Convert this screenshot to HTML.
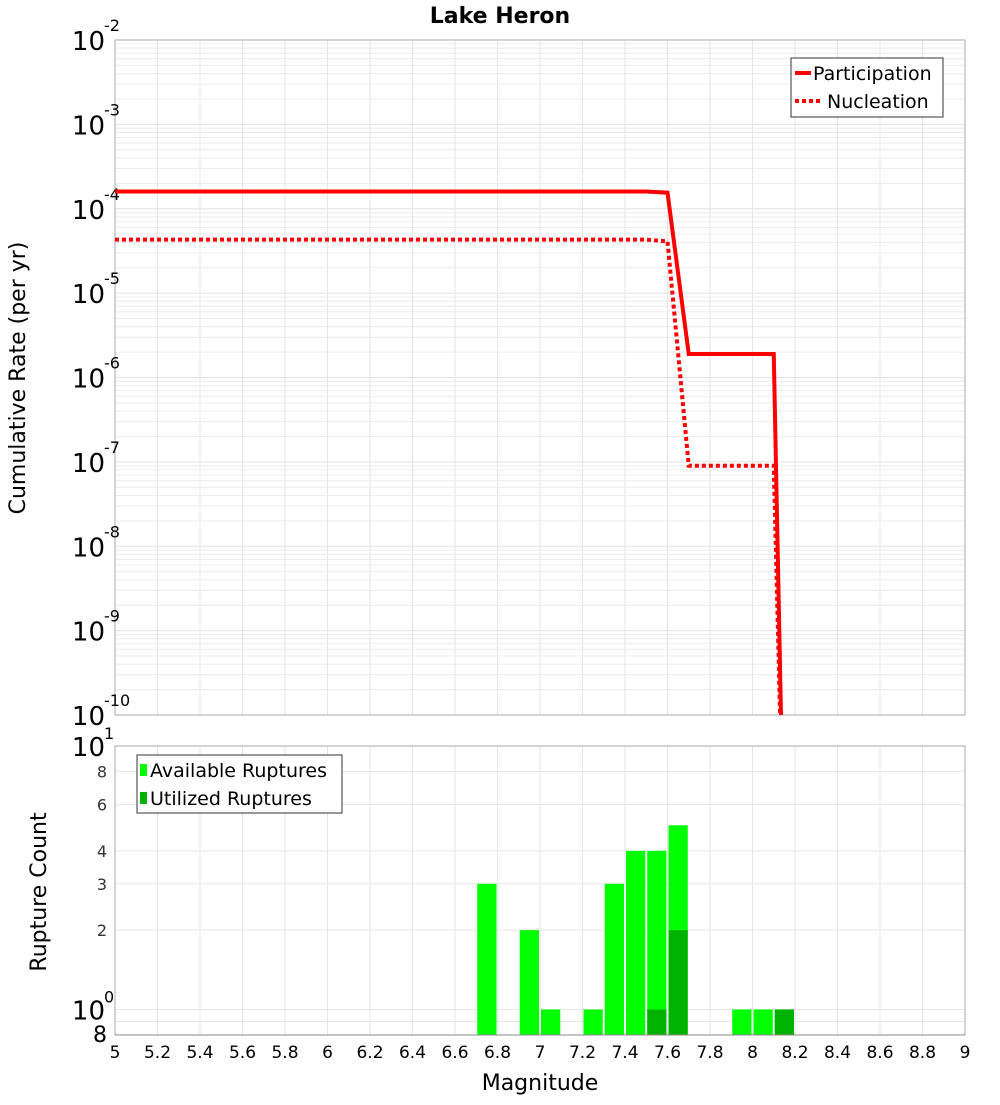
<!DOCTYPE html>
<html><head><meta charset="utf-8"><style>
body{margin:0;background:#fff;}
svg text{font-family:"DejaVu Sans","Liberation Sans",sans-serif;}
</style></head><body>
<svg id="c" width="1000" height="1100" xmlns="http://www.w3.org/2000/svg"></svg>
<script>
const partMag=[5,7.5,7.6,7.7,8.1,8.15];
const partRate=[1.6e-4,1.6e-4,1.55e-4,1.9e-6,1.9e-6,1e-12];
const nuclMag=[5,7.5,7.6,7.7,8.1,8.15];
const nuclRate=[4.3e-5,4.3e-5,4.1e-5,9e-8,9e-8,1e-12];
const binMag=[6.75,6.95,7.05,7.25,7.35,7.45,7.55,7.65,7.95,8.05,8.15];
const available=[3,2,1,1,3,4,4,5,1,1,1];
const utilized=[0,0,0,0,0,0,1,2,0,0,1];
const xTicks=[5,5.2,5.4,5.6,5.8,6,6.2,6.4,6.6,6.8,7,7.2,7.4,7.6,7.8,8,8.2,8.4,8.6,8.8,9];
const topExp=[-2,-3,-4,-5,-6,-7,-8,-9,-10];
const botTicks=[8,6,4,3,2];

const svg=document.getElementById('c');
const NS='http://www.w3.org/2000/svg';
function mk(t,a,p){const e=document.createElementNS(NS,t);for(const k in a)e.setAttribute(k,a[k]);(p||svg).appendChild(e);return e;}
const X0=115,X1=965;
const xs=m=>X0+(m-5)/4*(X1-X0);
const T0=40,T1=715;
const yt=v=>T0+(-2-Math.log10(v))*(T1-T0)/8;
const B0=746,B1=1035;
const yb=v=>B0+(1-Math.log10(v))*(B1-B0)/(1-Math.log10(0.8));

// top grid
const tg=mk('g',{});
for(let e=-10;e<-2;e++)for(let k=1;k<10;k++){const y=yt(k*Math.pow(10,e));mk('line',{x1:X0,x2:X1,y1:y,y2:y,stroke:k==1?'#e2e2e2':'#ececec','stroke-width':1},tg);}
xTicks.forEach(t=>{const x=xs(t);mk('line',{x1:x,x2:x,y1:T0,y2:T1,stroke:'#e6e6e6'},tg);mk('line',{x1:x,x2:x,y1:B0,y2:B1,stroke:'#e6e6e6'},tg);});
// bottom grid
[8,6,4,3,2,1,0.9].forEach(v=>{const y=yb(v);mk('line',{x1:X0,x2:X1,y1:y,y2:y,stroke:'#e6e6e6'});});

// frames
let f=mk('rect',{x:X0,y:T0,width:X1-X0,height:T1-T0,fill:'none',stroke:'#aaa'});
f=mk('rect',{x:X0,y:B0,width:X1-X0,height:B1-B0,fill:'none',stroke:'#aaa'});

// title
let t=mk('text',{x:500,y:23,'text-anchor':'middle','font-size':22,'font-weight':'bold'});t.textContent='Lake Heron';


// top y ticks
topExp.forEach(e=>{const y=yt(Math.pow(10,e));const g=mk('text',{x:105,y:y+10,'text-anchor':'end','font-size':26});g.textContent='10';

const s=mk('text',{x:104,y:y-9,'font-size':16});s.textContent=String(e);});
t=mk('text',{x:0,y:0,'font-size':22,'text-anchor':'middle',transform:'translate(25,378) rotate(-90)'});t.textContent='Cumulative Rate (per yr)';


// clip
const cp=mk('clipPath',{id:'tc'});mk('rect',{x:X0,y:T0,width:X1-X0,height:T1-T0},cp);
function line(ms,vs,name,dash){const p=mk('polyline',{points:ms.map((m,i)=>xs(m)+','+yt(vs[i])).join(' '),fill:'none',stroke:'#f00','stroke-width':4,'clip-path':'url(#tc)'});
if(dash)p.setAttribute('stroke-dasharray','4,3');}
line(partMag,partRate,'participation-line',false);
line(nuclMag,nuclRate,'nucleation-line',true);

// top legend
const lg=mk('g',{});
mk('rect',{x:791,y:58,width:152,height:59,fill:'#fff',stroke:'#333'},lg);
mk('line',{x1:795,x2:811,y1:73,y2:73,stroke:'#f00','stroke-width':4},lg);
mk('line',{x1:795,x2:821,y1:101,y2:101,stroke:'#f00','stroke-width':4,'stroke-dasharray':'4,3'},lg);
t=mk('text',{x:813,y:80,'font-size':19},lg);t.textContent='Participation';
t=mk('text',{x:827,y:108,'font-size':19},lg);t.textContent='Nucleation';

// bars
const bw=(xs(5.1)-xs(5))-2;
binMag.forEach((m,i)=>{const x=xs(m)-bw/2;
if(available[i]>0){const r=mk('rect',{x:x,y:yb(available[i]),width:bw,height:B1-yb(available[i]),fill:'#00ff00'});}
if(utilized[i]>0){const r=mk('rect',{x:x,y:yb(utilized[i]),width:bw,height:B1-yb(utilized[i]),fill:'#00b200'});}
});
mk('line',{x1:X0,x2:X1,y1:B1,y2:B1,stroke:'#888'});

// bottom y ticks
t=mk('text',{x:105,y:yb(10)+10,'text-anchor':'end','font-size':26});t.textContent='10';
t=mk('text',{x:104,y:yb(10)-7,'font-size':16});t.textContent='1';
t=mk('text',{x:105,y:yb(1)+10,'text-anchor':'end','font-size':26});t.textContent='10';
t=mk('text',{x:104,y:yb(1)-7,'font-size':16});t.textContent='0';
t=mk('text',{x:107,y:yb(0.8)+7,'text-anchor':'end','font-size':22});t.textContent='8';
botTicks.forEach(v=>{const g=mk('text',{x:107,y:yb(v)+6,'text-anchor':'end','font-size':16,fill:'#333'});g.textContent=String(v);
});
t=mk('text',{x:0,y:0,'font-size':22,'text-anchor':'middle',transform:'translate(46,892) rotate(-90)'});t.textContent='Rupture Count';


// x ticks
xTicks.forEach(v=>{const g=mk('text',{x:xs(v),y:1058,'text-anchor':'middle','font-size':17});g.textContent=String(v);
});
t=mk('text',{x:540,y:1090,'text-anchor':'middle','font-size':22});t.textContent='Magnitude';


// bottom legend
const bl=mk('g',{});
mk('rect',{x:137,y:755,width:205,height:58,fill:'#fff',stroke:'#333'},bl);
mk('rect',{x:140,y:764,width:7,height:12,fill:'#00ff00'},bl);
mk('rect',{x:140,y:792,width:7,height:12,fill:'#00b200'},bl);
t=mk('text',{x:150,y:777,'font-size':19},bl);t.textContent='Available Ruptures';
t=mk('text',{x:150,y:805,'font-size':19},bl);t.textContent='Utilized Ruptures';
</script>
</body></html>
